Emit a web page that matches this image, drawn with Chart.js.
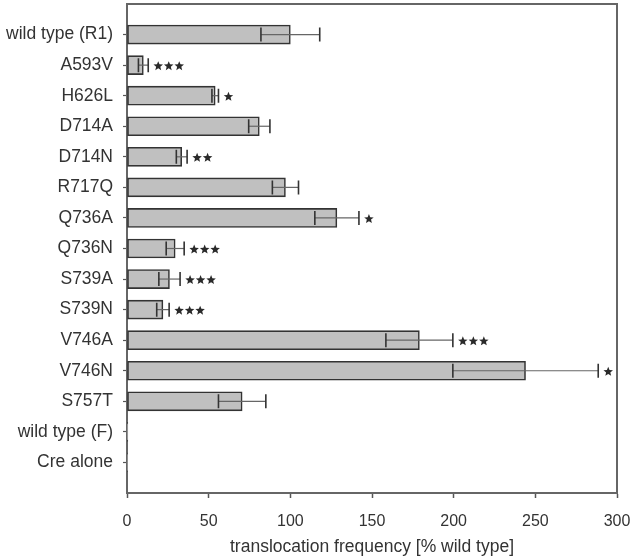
<!DOCTYPE html>
<html>
<head>
<meta charset="utf-8">
<script src="https://cdn.jsdelivr.net/npm/chart.js@4"></script>
<style>
html,body{margin:0;padding:0;background:#fff;}
#wrap{width:634px;height:558px;}
</style>
</head>
<body>
<div id="wrap"><canvas id="c" width="634" height="558"></canvas></div>
<script>
const categories = ['wild type (R1)','A593V','H626L','D714A','D714N','R717Q','Q736A','Q736N','S739A','S739N','V746A','V746N','S757T','wild type (F)','Cre alone'];
const means  = [100, 10, 54, 81, 33.5, 97, 128.5, 29.5, 26, 22, 179, 244, 70.5, 0.5, 0.3];
const errors = [18, 3, 2, 6.5, 3.3, 8, 13.5, 5.5, 6.5, 3.8, 20.5, 44.5, 14.5, 0, 0];
const stars  = ['', '***', '*', '', '**', '', '*', '***', '***', '***', '***', '*', '', '', ''];
const xTicks = [0, 50, 100, 150, 200, 250, 300];
const xTitle = 'translocation frequency [% wild type]';

const labels = [''].concat(categories, ['']);
const padded = arr => [null].concat(arr, [null]);
const FONT = "'Liberation Sans', Arial, sans-serif";

function drawStar(ctx, cx, cy, R, r) {
  ctx.beginPath();
  for (let k = 0; k < 10; k++) {
    const ang = -Math.PI / 2 + k * Math.PI / 5;
    const rad = (k % 2 === 0) ? R : r;
    const px = cx + rad * Math.cos(ang), py = cy + rad * Math.sin(ang);
    if (k === 0) ctx.moveTo(px, py); else ctx.lineTo(px, py);
  }
  ctx.closePath();
  ctx.fill();
}

const extras = {
  id: 'extras',
  afterDatasetsDraw(chart) {
    const ctx = chart.ctx;
    const xs = chart.scales.x, ys = chart.scales.y;
    ctx.save();
    categories.forEach((c, i) => {
      const y = ys.getPixelForValue(i + 1);
      const m = means[i], e = errors[i];
      if (e > 0) {
        const x0 = xs.getPixelForValue(m - e), x1 = xs.getPixelForValue(m + e);
        ctx.strokeStyle = '#666';
        ctx.lineWidth = 1.2;
        ctx.beginPath(); ctx.moveTo(x0, y); ctx.lineTo(x1, y); ctx.stroke();
        ctx.strokeStyle = '#333';
        ctx.lineWidth = 1.6;
        ctx.beginPath();
        ctx.moveTo(x0, y - 7); ctx.lineTo(x0, y + 7);
        ctx.moveTo(x1, y - 7); ctx.lineTo(x1, y + 7);
        ctx.stroke();
      }
      if (stars[i]) {
        const sx = xs.getPixelForValue(m + e) + 10;
        ctx.fillStyle = '#2a2a2a';
        for (let k = 0; k < stars[i].length; k++) {
          drawStar(ctx, sx + k * 10.5, y + 1, 5, 2.2);
        }
      }
    });
    const a = chart.chartArea;
    ctx.strokeStyle = '#666';
    ctx.lineWidth = 2;
    ctx.beginPath();
    ctx.moveTo(a.left, a.top); ctx.lineTo(a.right, a.top); ctx.lineTo(a.right, a.bottom);
    ctx.stroke();
    ctx.restore();
  }
};

new Chart(document.getElementById('c'), {
  type: 'bar',
  data: {
    labels: labels,
    datasets: [{
      data: padded(means),
      backgroundColor: '#c0c0c0',
      borderColor: '#333',
      borderWidth: 1.6,
      borderSkipped: false,
      barThickness: 19
    }]
  },
  options: {
    indexAxis: 'y',
    responsive: false,
    animation: false,
    events: [],
    layout: { padding: { top: 4, right: 17, left: 0, bottom: 0 } },
    plugins: { legend: { display: false }, tooltip: { enabled: false } },
    scales: {
      x: {
        type: 'linear',
        min: 0, max: 300,
        afterBuildTicks: s => { s.ticks = xTicks.map(v => ({ value: v })); },
        grid: { drawOnChartArea: false, drawTicks: true, tickLength: 5, tickColor: '#555', tickWidth: 1.5 },
        border: { color: '#666', width: 2 },
        ticks: { color: '#333', font: { family: FONT, size: 16 }, padding: 14, maxRotation: 0 },
        title: { display: true, text: xTitle, color: '#333', font: { family: FONT, size: 17.5 }, padding: { top: 2, bottom: 0 } },
        afterFit: s => { s.height = 65; s.paddingLeft = 0; s.paddingRight = 0; }
      },
      y: {
        type: 'category',
        offset: false,
        grid: {
          offset: false,
          drawOnChartArea: false, drawTicks: true, tickLength: 4, tickWidth: 1.2,
          tickColor: ctx => (ctx.index === 0 || ctx.index === labels.length - 1) ? 'rgba(0,0,0,0)' : '#555'
        },
        border: { color: '#666', width: 2 },
        ticks: { color: '#333', font: { family: FONT, size: 17.5 }, padding: 10, autoSkip: false },
        afterFit: s => { s.width = 127; s.paddingTop = 0; s.paddingBottom = 0; }
      }
    }
  },
  plugins: [extras]
});
</script>
</body>
</html>
